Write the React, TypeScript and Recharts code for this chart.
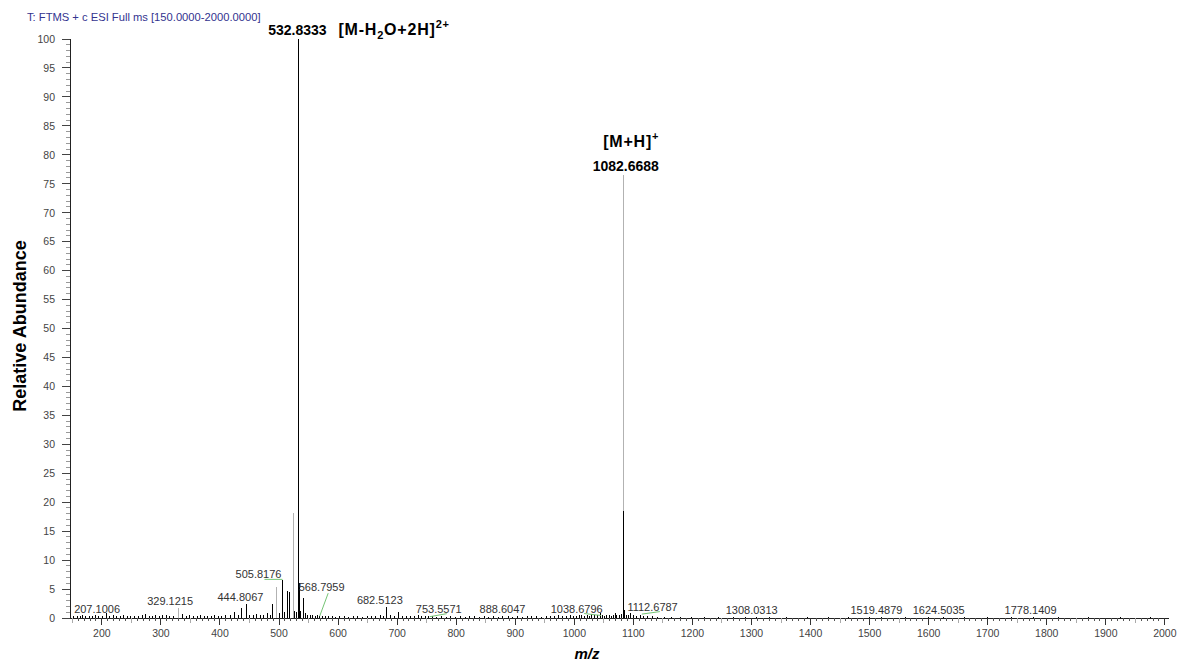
import React from 'react';
import { ComposedChart, Bar, XAxis, YAxis, ReferenceDot } from 'recharts';

// ---------- data ----------
const xDomain: [number, number] = [146, 2007];
const xTickLabels = [200, 300, 400, 500, 600, 700, 800, 900, 1000, 1100, 1200, 1300, 1400, 1500, 1600, 1700, 1800, 1900, 2000];
const yTickLabels = [0, 5, 10, 15, 20, 25, 30, 35, 40, 45, 50, 55, 60, 65, 70, 75, 80, 85, 90, 95, 100];

// peaks drawn in grey: [m/z, relative abundance]
const greyPeaks: [number, number][] = [
  [329.1215, 1.7], [496.0, 5.3], [524.2, 18.1], [1082.6688, 76.5],
];

// peaks drawn in black: [m/z, relative abundance]
const blackPeaks: [number, number][] = [
  [152.1, 0.3], [158.0, 0.4], [163.1, 0.3], [167.9, 0.5], [173.0, 0.3], [179.1, 0.4], [184.0, 0.3],
  [189.2, 0.5], [195.1, 0.3], [201.0, 0.4], [207.1006, 0.8], [212.9, 0.3], [219.1, 0.5], [225.0, 0.3],
  [231.2, 0.4], [237.0, 0.6], [243.1, 0.3], [249.0, 0.3], [255.2, 0.4], [262.0, 0.3], [268.1, 0.5],
  [274.2, 0.7], [280.0, 0.3], [286.1, 0.4], [291.0, 0.6], [297.2, 0.3], [303.1, 0.5], [309.7, 0.5],
  [315.0, 0.3], [321.1, 0.4], [336.8, 0.7], [343.0, 0.4], [349.0, 0.5], [355.1, 0.3], [361.2, 0.4],
  [367.0, 0.6], [373.1, 0.3], [379.2, 0.4], [385.0, 0.3], [391.1, 0.5], [397.2, 0.4], [403.0, 0.3],
  [409.1, 0.5], [417.0, 0.6], [425.4, 1.0], [431.0, 0.5], [436.7, 1.8], [444.8067, 2.5], [450.2, 0.6],
  [456.1, 0.5], [462.0, 0.7], [468.2, 0.5], [474.1, 0.6], [480.0, 0.8], [485.1, 0.6], [489.2, 2.4],
  [500.2, 0.9], [505.8176, 6.5], [508.9, 1.0], [514.0, 4.7], [518.5, 4.5], [526.0, 1.2], [529.8, 1.0],
  [532.8333, 100], [533.33, 66], [534.3, 6.0], [537.0, 1.2], [541.8, 3.4], [545.0, 0.8], [549.0, 0.6],
  [553.1, 0.5], [557.0, 0.6], [561.2, 0.4], [565.0, 0.5], [568.7959, 0.4], [573.1, 0.3], [578.0, 0.4],
  [584.2, 0.3], [590.0, 0.4], [596.1, 0.2], [603.0, 0.3], [611.2, 0.4], [618.0, 0.2], [626.1, 0.3],
  [633.0, 0.4], [641.2, 0.2], [649.0, 0.3], [657.1, 0.4], [664.0, 0.3], [671.2, 0.5], [677.0, 0.4],
  [682.5123, 1.9], [688.0, 0.5], [695.1, 0.4], [702.3, 1.1], [709.0, 0.3], [716.2, 0.4], [723.0, 0.3],
  [729.1, 0.4], [735.9, 0.5], [742.0, 0.3], [748.1, 0.4], [753.5571, 0.4], [760.0, 0.3], [767.2, 0.2],
  [775.0, 0.3], [783.1, 0.2], [791.0, 0.3], [799.2, 0.2], [807.0, 0.3], [815.1, 0.2], [823.0, 0.3],
  [831.2, 0.4], [839.0, 0.2], [847.1, 0.3], [855.0, 0.2], [863.2, 0.3], [871.0, 0.2], [879.1, 0.3],
  [888.6047, 0.4], [896.0, 0.2], [904.1, 0.3], [912.0, 0.2], [920.2, 0.3], [928.0, 0.4], [936.1, 0.3],
  [944.0, 0.2], [952.1, 0.3], [960.0, 0.4], [967.2, 0.3], [973.0, 0.5], [980.1, 0.3], [986.0, 0.4],
  [992.7, 0.5], [998.0, 0.4], [1004.1, 0.3], [1008.0, 0.5], [1012.5, 0.6], [1017.0, 0.4], [1022.1, 0.5],
  [1026.0, 0.4], [1029.5, 0.7], [1034.0, 0.5], [1038.6796, 0.6], [1043.6, 0.8], [1048.0, 0.5],
  [1051.1, 0.4], [1054.9, 0.6], [1059.0, 0.5], [1063.0, 0.4], [1066.0, 0.6], [1069.0, 0.9], [1072.1, 0.5],
  [1076.3, 0.5], [1079.5, 0.7], [1082.6688, 18.4], [1083.0, 17.5], [1083.67, 4.7], [1084.67, 1.3],
  [1088.0, 0.6], [1091.0, 0.5], [1095.5, 0.8], [1101.0, 0.6], [1106.0, 0.4], [1112.6787, 0.5],
  [1117.0, 0.3], [1123.5, 0.3], [1132.6, 0.4], [1141.0, 0.2], [1152.0, 0.2], [1165.0, 0.15], [1180.0, 0.2],
  [1198.0, 0.15], [1220.0, 0.2], [1245.0, 0.15], [1270.0, 0.2], [1290.0, 0.15], [1308.0313, 0.25],
  [1330.0, 0.15], [1360.0, 0.15], [1395.0, 0.15], [1430.0, 0.12], [1465.0, 0.15], [1500.0, 0.12],
  [1519.4879, 0.2], [1560.0, 0.12], [1600.0, 0.15], [1624.5035, 0.25], [1660.0, 0.12], [1700.0, 0.15],
  [1740.0, 0.12], [1778.1409, 0.2], [1820.0, 0.12], [1870.0, 0.12], [1925.0, 0.12], [1975.0, 0.1],
];

// labelled small peaks (m/z) and where their label sits relative to the peak top (px)
const peakLabelMz = [207.1006, 329.1215, 444.8067, 505.8176, 568.7959, 682.5123, 753.5571, 888.6047,
  1038.6796, 1112.6787, 1308.0313, 1519.4879, 1624.5035, 1778.1409];
const peakLabelOffset: Record<string, { dx: number; dy: number; leader?: number[] }> = {
  '207.1006': { dx: -9, dy: 0 },
  '329.1215': { dx: -8, dy: -3 },
  '444.8067': { dx: -6, dy: -2.5 },
  '505.8176': { dx: -24, dy: -2.5, leader: [-18, -1, 0, -1] },
  '568.7959': { dx: 2, dy: -24.5, leader: [8.5, -22.5, 0, 0.5] },
  '682.5123': { dx: -7, dy: -2.5 },
  '753.5571': { dx: 10, dy: -2.2, leader: [1, 1, 18, -2] },
  '888.6047': { dx: -6, dy: -2.2 },
  '1038.6796': { dx: -20.5, dy: -2, leader: [-13, -1, 4, 1] },
  '1112.6787': { dx: 11.7, dy: -4.6, leader: [1, -1, 19, -3.5] },
  '1308.0313': { dx: -4.5, dy: -3 },
  '1519.4879': { dx: -4.7, dy: -3.3 },
  '1624.5035': { dx: -4.4, dy: -3 },
  '1778.1409': { dx: -3.3, dy: -3.3 },
};

// ---------- styles ----------
const FONT = '"Liberation Sans", Arial, sans-serif';
const BLACK = '#000000';
const GREY = '#b2b2b2';
const TEXT = '#333333';

type Row = { mz: number; abundance: number; tone: 'grey' | 'black' };
const spectrum: Row[] = [
  ...greyPeaks.map(([mz, a]) => ({ mz, abundance: a, tone: 'grey' as const })),
  ...blackPeaks.map(([mz, a]) => ({ mz, abundance: a, tone: 'black' as const })),
];

const heightOf = (mz: number) =>
  Math.max(...spectrum.filter((r) => r.mz === mz).map((r) => r.abundance));

const xTicks: number[] = [];
for (let v = 150; v <= 2000; v += 10) xTicks.push(v);
const yTicks: number[] = [];
for (let v = 0; v <= 100; v += 1) yTicks.push(v);

const Stick = (props: any) => {
  const { x, y, width, height, payload } = props;
  if (x == null || y == null || !isFinite(x) || !isFinite(y)) return null;
  const cx = Math.floor(x + (width || 0) / 2) + 0.5;
  const bottom = y + (height || 0);
  const top = Math.min(y, bottom - 1);
  return (
    <line x1={cx} x2={cx} y1={top} y2={bottom} stroke={payload.tone === 'grey' ? GREY : BLACK}
      strokeWidth={1} shapeRendering="crispEdges" />
  );
};

const XTick = (props: any) => {
  const { x, y, payload } = props;
  const v = payload.value as number;
  const major = v % 100 === 0;
  const mid = !major && v % 50 === 0;
  const len = major ? 7 : mid ? 5 : 3;
  const px = Math.floor(x) + 0.5;
  return (
    <g>
      <line x1={px} x2={px} y1={y} y2={y + len} stroke={major ? '#333' : mid ? '#aaa' : '#555'}
        shapeRendering="crispEdges" />
      {major && xTickLabels.includes(v) && (
        <text x={x} y={y + 18.5} textAnchor="middle" fontSize={10.5} fill="#444" fontFamily={FONT}>{v}</text>
      )}
    </g>
  );
};

const YTick = (props: any) => {
  const { x, y, payload } = props;
  const v = payload.value as number;
  const major = v % 5 === 0;
  const py = Math.floor(y) + 0.5;
  return (
    <g>
      <line x1={x - (major ? 8 : 4)} x2={x} y1={py} y2={py} stroke={major ? '#444' : '#999'}
        shapeRendering="crispEdges" />
      {major && yTickLabels.includes(v) && (
        <text x={x - 15} y={y + 3.8} textAnchor="end" fontSize={10.5} fill="#444" fontFamily={FONT}>{v}</text>
      )}
    </g>
  );
};

const SmallLabel = ({ cx, cy, mz }: { cx: number; cy: number; mz: number }) => {
  const key = mz.toFixed(4);
  const o = peakLabelOffset[key];
  return (
    <g>
      {o.leader && (
        <line x1={cx + o.leader[0]} y1={cy + o.leader[1]} x2={cx + o.leader[2]} y2={cy + o.leader[3]}
          stroke="#74c474" strokeWidth={1} />
      )}
      <text x={cx + o.dx} y={cy + o.dy} textAnchor="middle" fontSize={11} fill={TEXT} fontFamily={FONT}>{key}</text>
    </g>
  );
};

const MainIonLabel = ({ cx, cy }: { cx: number; cy: number }) => (
  <g fontFamily={FONT} fontWeight="bold" fill={BLACK}>
    <text x={cx - 1} y={cy - 4} textAnchor="middle" fontSize={14}>532.8333</text>
    <text x={cx + 40} y={cy - 4.5} fontSize={16} letterSpacing={0.8}>
      [M-H<tspan fontSize={11} dy={4}>2</tspan><tspan dy={-4}>O+2H]</tspan><tspan fontSize={11} dy={-7}>2+</tspan>
    </text>
  </g>
);

const ProtonatedLabel = ({ cx, cy }: { cx: number; cy: number }) => (
  <g fontFamily={FONT} fontWeight="bold" fill={BLACK}>
    <text x={cx + 2.6} y={cy - 3.6} textAnchor="middle" fontSize={14}>1082.6688</text>
    <text x={cx - 20} y={cy - 28.4} fontSize={16} letterSpacing={0.8}>
      [M+H]<tspan fontSize={11} dy={-7}>+</tspan>
    </text>
  </g>
);

export default function App() {
  return (
    <div style={{ position: 'absolute', left: 0, top: 0, width: 1179, height: 662, background: '#fff' }}>
      <ComposedChart width={1179} height={662} data={spectrum}
        margin={{ top: 39, right: 10, bottom: 0, left: 0 }}>
        <XAxis dataKey="mz" type="number" domain={xDomain} allowDataOverflow ticks={xTicks} interval={0}
          height={44} tickSize={0} tickMargin={0} tickLine={false} tick={<XTick />}
          axisLine={{ stroke: '#222', shapeRendering: 'crispEdges' }} />
        <YAxis type="number" domain={[0, 100]} allowDataOverflow ticks={yTicks} interval={0}
          width={70} tickSize={0} tickMargin={0} tickLine={false} tick={<YTick />}
          axisLine={{ stroke: '#222', shapeRendering: 'crispEdges' }} />
        <Bar dataKey="abundance" barSize={1} isAnimationActive={false} shape={<Stick />} />
        {peakLabelMz.map((mz) => (
          <ReferenceDot key={mz} x={mz} y={heightOf(mz)} r={0} ifOverflow="visible"
            shape={(p: any) => <SmallLabel cx={p.cx} cy={p.cy} mz={mz} />} />
        ))}
        <ReferenceDot x={532.8333} y={heightOf(532.8333)} r={0} ifOverflow="visible"
          shape={(p: any) => <MainIonLabel cx={p.cx} cy={p.cy} />} />
        <ReferenceDot x={1082.6688} y={heightOf(1082.6688)} r={0} ifOverflow="visible"
          shape={(p: any) => <ProtonatedLabel cx={p.cx} cy={p.cy} />} />
      </ComposedChart>
      <svg width={1179} height={662} style={{ position: 'absolute', left: 0, top: 0, pointerEvents: 'none' }}>
        <text x={27} y={21} fontSize={11.2} fill="#33338f" fontFamily={FONT}>
          T: FTMS + c ESI Full ms [150.0000-2000.0000]
        </text>
        <text transform="rotate(-90)" x={-326} y={25.5} textAnchor="middle" fontSize={18} fontWeight="bold"
          fill={BLACK} fontFamily={FONT}>Relative Abundance</text>
        <text x={587} y={658.5} textAnchor="middle" fontSize={15} fontWeight="bold" fontStyle="italic"
          fill={BLACK} fontFamily={FONT}>m/z</text>
      </svg>
    </div>
  );
}
